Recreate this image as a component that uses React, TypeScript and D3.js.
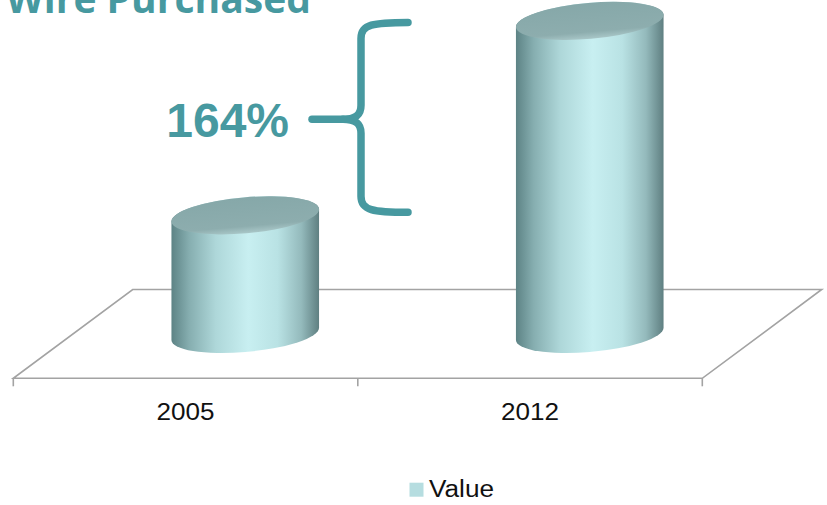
import * as d3 from 'd3'

const categories = ['2005', '2012']
const values = [100, 264]
const seriesName = 'Value'
const title = 'Wire Purchased'
const changeLabel = '164%'

const W = 827
const H = 505
const TEAL = '#4799a0'

// floor geometry (front edge + depth offset of the 3D plot area)
const frontY = 378.3
const depth = { dx: 119.4, dy: -88.8 }
const tilt = -5 // degrees, ellipse rotation
const ry = 18

function ellipsePt(cx: number, cy: number, a: number, b: number, t: number) {
  const th = (tilt * Math.PI) / 180
  const ex = a * Math.cos(t)
  const ey = b * Math.sin(t)
  return [cx + ex * Math.cos(th) - ey * Math.sin(th), cy + ex * Math.sin(th) + ey * Math.cos(th)]
}

export default function App() {
  const x = d3.scaleBand<string>().domain(categories).range([13.3, 702.3]).paddingInner(0)
  const y = d3.scaleLinear().domain([0, d3.max(values) as number]).range([0, 313])
  const x0 = x.range()[0]
  const x1 = x.range()[1]
  const baseY = frontY + depth.dy / 2
  const rx = x.bandwidth() * 0.215

  const floor = [
    [x0, frontY],
    [x1, frontY],
    [x1 + depth.dx, frontY + depth.dy],
    [x0 + depth.dx, frontY + depth.dy],
  ]
  const floorPath = d3.line()(floor as [number, number][]) + 'Z'

  const t0 = Math.atan((ry * Math.tan((-tilt * Math.PI) / 180)) / rx)

  const cyl = categories.map((c, i) => {
    const cx = (x(c) as number) + x.bandwidth() / 2 + depth.dx / 2
    const topY = baseY - y(values[i])
    const tl = ellipsePt(cx, topY, rx, ry, t0 + Math.PI)
    const tr = ellipsePt(cx, topY, rx, ry, t0)
    const bl = ellipsePt(cx, baseY, rx, ry, t0 + Math.PI)
    const br = ellipsePt(cx, baseY, rx, ry, t0)
    const body =
      `M${tl[0]},${tl[1]} L${bl[0]},${bl[1]} ` +
      `A${rx},${ry} ${tilt} 0 0 ${br[0]},${br[1]} ` +
      `L${tr[0]},${tr[1]} ` +
      `A${rx},${ry} ${tilt} 0 0 ${tl[0]},${tl[1]} Z`
    return { c, cx, topY, body }
  })

  // brace between the two tops
  const bTop = cyl[1].topY + 1.5
  const bBot = cyl[0].topY - 3
  const bMid = (bTop + bBot) / 2 + 2
  const vx = 361
  const ex = 408
  const tipX = 312
  const brace =
    `M${ex},${bTop} C${vx + 12},${bTop} ${vx},${bTop + 2} ${vx},${bTop + 16} ` +
    `L${vx},${bMid - 14} C${vx},${bMid - 4} ${vx - 6},${bMid} ${vx - 18},${bMid} ` +
    `C${vx - 6},${bMid} ${vx},${bMid + 4} ${vx},${bMid + 14} ` +
    `L${vx},${bBot - 16} C${vx},${bBot - 2} ${vx + 12},${bBot} ${ex},${bBot}`

  return (
    <svg width={W} height={H} style={{ position: 'absolute', left: 0, top: 0, background: '#fff' }}>
      <defs>
        <linearGradient id="cylBody" x1="0" x2="1" y1="0" y2="0">
          <stop offset="0" stopColor="#5d8385" />
          <stop offset="0.12" stopColor="#86aeb0" />
          <stop offset="0.3" stopColor="#aed7d9" />
          <stop offset="0.52" stopColor="#c8eff1" />
          <stop offset="0.72" stopColor="#b9e2e4" />
          <stop offset="0.88" stopColor="#94babc" />
          <stop offset="1" stopColor="#5f7f81" />
        </linearGradient>
        <linearGradient id="cylTop" x1="0" x2="0" y1="0" y2="1">
          <stop offset="0" stopColor="#86a8a9" />
          <stop offset="0.8" stopColor="#8dadae" />
          <stop offset="1" stopColor="#a9c7c8" />
        </linearGradient>
      </defs>

      {/* title is partly above the frame, as in the source slide */}
      <text
        x={6}
        y={13}
        fontFamily="'Open Sans', sans-serif"
        fontWeight="bold"
        fontSize={40}
        fill={TEAL}
        textLength={305}
        lengthAdjust="spacingAndGlyphs"
      >
        {title}
      </text>

      <path d={floorPath} fill="#fff" stroke="#a3a3a3" strokeWidth={1.6} />
      {[x0, ...categories.map(c => (x(c) as number) + x.bandwidth())].map((tx, i) => (
        <line key={i} x1={tx} x2={tx} y1={frontY} y2={frontY + 8} stroke="#a3a3a3" strokeWidth={1.6} />
      ))}

      {cyl.map(d => (
        <g key={d.c}>
          <path d={d.body} fill="url(#cylBody)" />
          <ellipse
            cx={d.cx}
            cy={d.topY}
            rx={rx}
            ry={ry}
            transform={`rotate(${tilt},${d.cx},${d.topY})`}
            fill="url(#cylTop)"
          />
        </g>
      ))}

      {categories.map(c => (
        <text
          key={c}
          x={(x(c) as number) + x.bandwidth() / 2 - 29}
          y={419.5}
          fontFamily="'Liberation Sans', Arial, sans-serif"
          fontSize={23.5}
          fill="#111"
          textLength={58}
          lengthAdjust="spacingAndGlyphs"
        >
          {c}
        </text>
      ))}

      <path d={brace} fill="none" stroke={TEAL} strokeWidth={7.5} strokeLinecap="round" strokeLinejoin="round" />
      <line x1={tipX} x2={vx - 18} y1={bMid} y2={bMid} stroke={TEAL} strokeWidth={7.5} strokeLinecap="round" />
      <text
        x={289}
        y={137}
        textAnchor="end"
        fontFamily="'Liberation Sans', Arial, sans-serif"
        fontWeight="bold"
        fontSize={48}
        fill={TEAL}
      >
        {changeLabel}
      </text>

      <rect x={409.5} y={482.7} width={14} height={14} fill="#b6dde0" />
      <text
        x={429}
        y={497.3}
        fontFamily="'Liberation Sans', Arial, sans-serif"
        fontSize={23}
        fill="#111"
        textLength={65}
        lengthAdjust="spacingAndGlyphs"
      >
        {seriesName}
      </text>
    </svg>
  )
}
